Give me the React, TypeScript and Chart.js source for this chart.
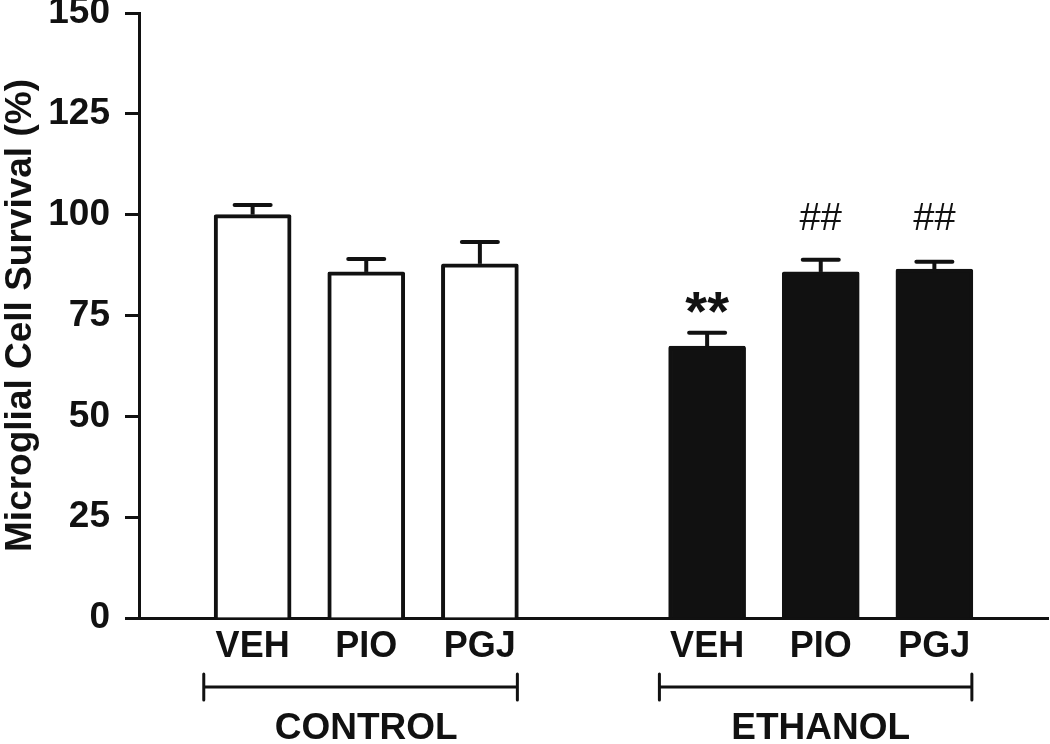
import React, { useEffect, useRef } from 'react';
import { Chart, registerables } from 'chart.js';

Chart.register(...registerables);

// ---- data ----
const categories = ['', 'VEH', 'PIO', 'PGJ', '', 'VEH', 'PIO', 'PGJ', ''];
const survivalMean = [null, 100, 85.8, 87.8, null, 67.4, 85.8, 86.5, null];
const survivalSem = [null, 2.4, 3.2, 5.4, null, 3.3, 3.0, 1.8, null];
const treatmentGroup = ['', 'control', 'control', 'control', '', 'ethanol', 'ethanol', 'ethanol', ''];
const significance = ['', '', '', '', '', '**', '##', '##', ''];
const significanceLevel = [null, null, null, null, null, 71.4, 96.2, 96.2, null];
const groupLabels = ['CONTROL', 'ETHANOL'];
const groupStart = [0.57, 4.58];
const groupEnd = [3.33, 7.33];
const groupCenter = [2, 6];
const yTickValues = [0, 25, 50, 75, 100, 125, 150];
const yAxisTitle = 'Microglial Cell Survival (%)';

const INK = '#111111';
const FONT = "'Liberation Sans', Arial, Helvetica, sans-serif";

const annotatePlugin = {
  id: 'annotatePlugin',
  afterDatasetsDraw(chart: any) {
    const { ctx, scales } = chart;
    const y = scales.y;
    const meta = chart.getDatasetMeta(0);
    ctx.save();
    ctx.strokeStyle = INK;
    ctx.fillStyle = INK;
    ctx.lineWidth = 4;
    survivalMean.forEach((m, i) => {
      if (m == null) return;
      const bar = meta.data[i];
      const cx = bar.x;
      const yTop = y.getPixelForValue(m);
      const yCap = y.getPixelForValue(m + (survivalSem[i] as number));
      ctx.lineCap = 'butt';
      ctx.beginPath();
      ctx.moveTo(cx, yTop);
      ctx.lineTo(cx, yCap);
      ctx.stroke();
      ctx.lineCap = 'round';
      ctx.beginPath();
      ctx.moveTo(cx - 18, yCap);
      ctx.lineTo(cx + 18, yCap);
      ctx.stroke();
    });
    significance.forEach((s, i) => {
      if (!s || significanceLevel[i] == null) return;
      const bar = meta.data[i];
      const cx = bar.x;
      const yy = y.getPixelForValue(significanceLevel[i] as number);
      ctx.textAlign = 'center';
      ctx.textBaseline = 'alphabetic';
      ctx.font = s.includes('*') ? `bold 56px ${FONT}` : `normal 38px ${FONT}`;
      ctx.fillText(s, cx, yy);
    });
    ctx.restore();
  },
  afterDraw(chart: any) {
    const { ctx, scales, chartArea } = chart;
    const x = scales.x;
    const y = scales.y;
    ctx.save();
    ctx.fillStyle = INK;
    // y tick labels
    ctx.font = `bold 37px ${FONT}`;
    ctx.textAlign = 'right';
    ctx.textBaseline = 'middle';
    yTickValues.forEach((v) => {
      ctx.fillText(String(v), chartArea.left - 29, y.getPixelForValue(v));
    });
    // group brackets
    ctx.strokeStyle = INK;
    ctx.lineWidth = 3;
    ctx.lineCap = 'round';
    const by = chartArea.bottom + 69;
    groupLabels.forEach((label, g) => {
      const x0 = x.getPixelForValue(groupStart[g]);
      const x1 = x.getPixelForValue(groupEnd[g]);
      ctx.beginPath();
      ctx.moveTo(x0, by);
      ctx.lineTo(x1, by);
      ctx.moveTo(x0, by - 13);
      ctx.lineTo(x0, by + 13);
      ctx.moveTo(x1, by - 13);
      ctx.lineTo(x1, by + 13);
      ctx.stroke();
      ctx.font = `bold 37px ${FONT}`;
      ctx.textAlign = 'center';
      ctx.textBaseline = 'middle';
      ctx.fillText(label, x.getPixelForValue(groupCenter[g]), chartArea.bottom + 111);
    });
    ctx.restore();
  },
};

export default function App() {
  const canvasRef = useRef<HTMLCanvasElement | null>(null);

  useEffect(() => {
    document.body.style.margin = '0';
    const canvas = canvasRef.current;
    if (!canvas) return;
    const chart = new Chart(canvas, {
      type: 'bar',
      data: {
        labels: categories,
        datasets: [
          {
            data: survivalMean as any,
            backgroundColor: treatmentGroup.map((g) => (g === 'ethanol' ? INK : '#ffffff')),
            borderColor: INK,
            borderWidth: 4,
            borderSkipped: 'bottom',
            borderRadius: 2,
            barThickness: 77,
          },
        ],
      },
      options: {
        responsive: false,
        animation: false,
        events: [],
        layout: { padding: { top: 13, right: 2, left: 0, bottom: 0 } },
        plugins: {
          legend: { display: false },
          tooltip: { enabled: false },
          title: { display: false },
        },
        scales: {
          x: {
            type: 'category',
            offset: false,
            grid: { display: false, drawTicks: false },
            border: { display: true, color: INK, width: 3 },
            ticks: {
              autoSkip: false,
              maxRotation: 0,
              minRotation: 0,
              color: INK,
              padding: 11,
              font: { family: FONT, size: 36, weight: 'bold', lineHeight: 1 },
            },
            afterFit(scale: any) {
              scale.height = 126;
              scale.paddingLeft = 0;
              scale.paddingRight = 0;
            },
          },
          y: {
            min: 0,
            max: 150,
            afterBuildTicks(scale: any) {
              scale.ticks = yTickValues.map((v) => ({ value: v }));
            },
            grid: {
              display: true,
              drawOnChartArea: false,
              drawTicks: true,
              tickLength: 14,
              tickWidth: 3,
              tickColor: INK,
            },
            border: { display: true, color: INK, width: 3 },
            ticks: {
              display: false,
            },
            title: {
              display: true,
              text: yAxisTitle,
              color: INK,
              padding: { top: 2, bottom: 0 },
              font: { family: FONT, size: 37, weight: 'bold', lineHeight: 1 },
            },
            afterFit(scale: any) {
              scale.width = 139;
              scale.paddingTop = 0;
              scale.paddingBottom = 0;
            },
          },
        },
      },
      plugins: [annotatePlugin],
    });
    return () => chart.destroy();
  }, []);

  return (
    <div style={{ width: 1050, height: 744, background: '#ffffff' }}>
      <canvas ref={canvasRef} width={1050} height={744} style={{ display: 'block' }} />
    </div>
  );
}
